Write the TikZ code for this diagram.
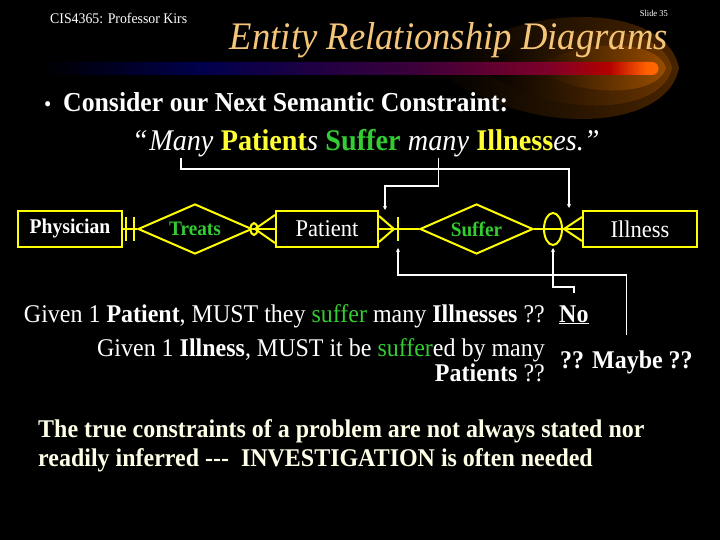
\documentclass[tikz,border=0pt]{standalone}
\usepackage{fontspec}
\setmainfont{Liberation Serif}[FakeStretch=0.94]
\usetikzlibrary{arrows.meta,positioning,calc,shapes.geometric}
\definecolor{erline}{HTML}{FFFF00}
\definecolor{ergreen}{HTML}{33CC33}
\definecolor{patyel}{HTML}{FFFF33}
\definecolor{titleor}{HTML}{F5C57A}
\definecolor{cream}{HTML}{FFFFE8}
\newcommand{\fsz}[1]{\fontsize{#1}{#1}\selectfont}
\pgfdeclarehorizontalshading{barshade}{100bp}{color(0bp)=(black); color(25bp)=(black); color(38bp)=(blue!30!black); color(55bp)=(violet!45!black); color(66bp)=(purple!65!black); color(71bp)=(red!70!black); color(74bp)=(orange!75!red); color(77bp)=(orange); color(100bp)=(yellow!70!orange)}
\pgfdeclarehorizontalshading{glowA}{100bp}{color(0bp)=(black); color(25bp)=(black); color(75bp)=(orange!28!black); color(100bp)=(orange!28!black)}
\pgfdeclarehorizontalshading{glowB}{100bp}{color(0bp)=(black); color(25bp)=(black); color(75bp)=(orange!42!black); color(100bp)=(orange!42!black)}
\pgfdeclarehorizontalshading{glowC}{100bp}{color(0bp)=(black); color(25bp)=(orange!10!black); color(75bp)=(orange!60!black); color(100bp)=(orange!60!black)}

\begin{document}
\begin{tikzpicture}[x=1pt, y=-1pt,
  >={Stealth[length=4pt,width=4pt]},
  txt/.style={inner sep=0pt, text=white},
  ent/.style={draw=erline, line width=2pt, minimum height=36pt, inner sep=0pt, text=white},
  rel/.style={diamond, draw=erline, line width=2pt, minimum width=114pt, minimum height=50pt,
    aspect=2.28, inner sep=0pt, text=ergreen, font=\fsz{20.5}\bfseries},
  zero/.style={ellipse, draw=erline, line width=2pt, inner sep=0pt},
  erl/.style={erline, line width=2pt},
  conn/.style={white, line width=1.8pt},
]
% background and header glow
\fill[black] (0,0) rectangle (720,540);
\useasboundingbox (0,0) rectangle (720,540);
\shade[shading=glowA] (435,68) .. controls (520,-2) and (666,2) .. (679,68) .. controls (666,134) and (520,138) .. (435,68);
\shade[shading=glowB] (480,68) .. controls (550,16) and (662,20) .. (672,68) .. controls (662,116) and (550,120) .. (480,68);
\shade[shading=glowC] (530,68) .. controls (585,36) and (658,40) .. (666,68) .. controls (658,96) and (585,100) .. (530,68);
\shade[shading=barshade] (40,62) -- (652,62) arc[start angle=-90, end angle=90, radius=6.5] -- (40,75) -- cycle;

% Header texts
\node[txt, anchor=base west, font=\fsz{14.7}] (hdr) at (50,24) {CIS4365: Professor Kirs};
\node[txt, anchor=base east, font=\fsz{9}] (slide) at (668,17) {Slide 35};
\node[txt, anchor=base east, text=titleor, font=\fsz{39}\itshape] (title) at (668,50) {Entity Relationship Diagrams};
\node[txt, anchor=base west, font=\fsz{22}] (bul) at (44,112) {\textbullet};
\node[txt, anchor=base west, font=\fsz{27.4}\bfseries] (cons) at (63,112) {Consider our Next Semantic Constraint:};

% The constraint sentence
\node[txt, anchor=base west, font=\fsz{30}\itshape] (qOpen) at (132,151) {“};
\node[txt, base right=1pt of qOpen, font=\fsz{30}\itshape] (qMany) {Many};
\node[txt, base right=7pt of qMany, font=\fsz{30}] (qPat) {\textbf{\color{patyel}Patient}\textit{s}};
\node[txt, base right=7pt of qPat, font=\fsz{30}\bfseries, text=ergreen] (qSuf) {Suffer};
\node[txt, base right=7pt of qSuf, font=\fsz{30}\itshape] (qmany) {many};
\node[txt, base right=7pt of qmany, font=\fsz{30}] (qIll) {\textbf{\color{patyel}Illness}\textit{es.”}};

% ER diagram
\node[ent, minimum width=104pt, font=\fsz{20.9}\bfseries] (phys) at (70,229) {Physician};
\node[rel] (treats) at (195,229) {Treats};
\node[ent, minimum width=102pt, font=\fsz{24}] (patient) at (327,229) {Patient};
\node[rel, minimum width=113pt] (suffer) at (476.5,229) {Suffer};
\node[ent, minimum width=114pt, font=\fsz{24}] (illness) at (640,229) {Illness};
\draw[erl] (phys) -- (treats) -- (patient) -- (suffer) -- (illness);

% cardinalities
\draw[erl] ($(phys.east)+(3,-11.5)$) -- ++(0,23) ($(phys.east)+(11,-11.5)$) -- ++(0,23);
\draw[erl] ($(patient.west)+(-21,0)$) ellipse[x radius=3.5, y radius=6];
\draw[erl] ($(patient.west)+(0,-14)$) -- ($(patient.west)+(-20,0)$) -- ($(patient.west)+(0,14)$);
\draw[erl] ($(patient.east)+(0,-13)$) -- ($(patient.east)+(15,0)$) -- ($(patient.east)+(0,13)$);
\draw[erl] ($(patient.east)+(19,-12)$) -- ++(0,24);
\node[zero, minimum width=18pt, minimum height=32pt] (oIll) at ($(illness.west)+(-29,0)$) {};
\draw[erl] ($(illness.west)+(0,-12)$) -- ($(illness.west)+(-18,0)$) -- ($(illness.west)+(0,12)$);

% Questions
\node[txt, anchor=base east, font=\fsz{25.5}] (given1) at (545,322) {Given 1 \textbf{Patient}, MUST they {\color{ergreen}suffer} many \textbf{Illnesses} ??};
\node[txt, anchor=base west, font=\fsz{25.5}\bfseries] (no) at (559,322) {\underline{No}};
\node[txt, anchor=base east, font=\fsz{25.5}] (given2) at (545,356) {Given 1 \textbf{Illness}, MUST it be {\color{ergreen}suffer}ed by many};
\node[txt, anchor=base east, font=\fsz{25.5}] (given3) at (545,381) {\textbf{Patients} ??};
\node[txt, anchor=base west, font=\fsz{25.5}\bfseries] (maybe) at (560,368) {?? Maybe ??};

% pointers
\coordinate (mIll) at ($(illness.west)+(-13,-21)$);
\coordinate (mPat) at ($(patient.east)+(6,-19)$);
\coordinate (onePat) at ($(patient.east)+(19,19)$);
\draw[conn,->] (qMany.south) -- ++(0,11) -| (mIll);
\draw[conn,->] (qmany.south) -- ++(0,28) -| (mPat);
\draw[conn,->] (maybe.north) ++(0,-15) -- ++(0,-60) -| (onePat);
\draw[conn,->] (no.north) ++(0,-12) -- ++(0,-6) -| ([yshift=-2pt]oIll.south);

% Closing remark
\node[txt, anchor=base west, text=cream, font=\fsz{25.5}\bfseries] (truth1) at (38,437) {The true constraints of a problem are not always stated nor};
\node[txt, anchor=base west, text=cream, font=\fsz{25.5}\bfseries] (truth2) at (38,466) {readily inferred -{}-{}-\ \ INVESTIGATION is often needed};
\end{tikzpicture}
\end{document}
